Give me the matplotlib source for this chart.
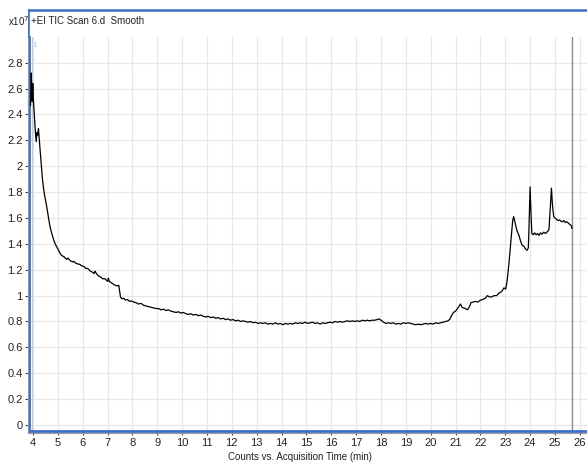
import matplotlib
matplotlib.use("Agg")
import matplotlib.pyplot as plt
from matplotlib.lines import Line2D

# ---- data ----
time_min = [
    3.90, 3.93, 3.95, 3.97, 3.99, 4.02, 4.06, 4.10, 4.13, 4.16, 4.19, 4.22, 4.25, 4.28,
    4.33, 4.38, 4.43, 4.48, 4.55, 4.60, 4.65, 4.70, 4.77, 4.85, 4.92, 5.00, 5.08, 5.15,
    5.25, 5.35, 5.40, 5.50, 5.60, 5.65, 5.72, 5.80, 5.90, 5.95, 6.05, 6.12, 6.20, 6.30,
    6.40, 6.45, 6.50, 6.55, 6.65, 6.75, 6.80, 6.90, 6.95, 7.00, 7.03, 7.07, 7.15, 7.22,
    7.30, 7.38, 7.45, 7.48, 7.52, 7.58, 7.65, 7.72, 7.80, 7.88, 7.95, 8.05, 8.15, 8.25,
    8.35, 8.45, 8.55, 8.65, 8.75, 8.85, 8.95, 9.05, 9.15, 9.25, 9.35, 9.45, 9.55, 9.65,
    9.75, 9.85, 9.95, 10.05, 10.15, 10.25, 10.35, 10.45, 10.55, 10.65, 10.75, 10.85,
    10.95, 11.05, 11.15, 11.25, 11.35, 11.45, 11.55, 11.65, 11.75, 11.85, 11.95, 12.05,
    12.15, 12.25, 12.35, 12.45, 12.55, 12.65, 12.75, 12.85, 12.95, 13.05, 13.15, 13.25,
    13.35, 13.45, 13.55, 13.65, 13.75, 13.85, 13.95, 14.05, 14.15, 14.25, 14.35, 14.45,
    14.55, 14.65, 14.75, 14.85, 14.95, 15.05, 15.15, 15.25, 15.35, 15.45, 15.55, 15.65,
    15.75, 15.85, 15.95, 16.05, 16.15, 16.25, 16.35, 16.45, 16.55, 16.65, 16.75, 16.85,
    16.95, 17.05, 17.15, 17.25, 17.35, 17.45, 17.55, 17.65, 17.75, 17.85, 17.92, 18.00,
    18.10, 18.20, 18.30, 18.40, 18.50, 18.60, 18.70, 18.80, 18.90, 19.00, 19.10, 19.20,
    19.30, 19.40, 19.50, 19.60, 19.70, 19.80, 19.90, 20.00, 20.10, 20.20, 20.30, 20.40,
    20.50, 20.60, 20.70, 20.78, 20.85, 20.92, 21.00, 21.08, 21.15, 21.20, 21.26, 21.32,
    21.40, 21.48, 21.55, 21.62, 21.70, 21.80, 21.90, 22.00, 22.10, 22.20, 22.28, 22.36,
    22.46, 22.55, 22.65, 22.75, 22.85, 22.95, 23.02, 23.08, 23.15, 23.22, 23.30, 23.34,
    23.40, 23.46, 23.50, 23.56, 23.62, 23.68, 23.75, 23.82, 23.88, 23.93, 23.96, 24.00,
    24.04, 24.07, 24.12, 24.18, 24.24, 24.30, 24.36, 24.42, 24.48, 24.55, 24.62, 24.70,
    24.76, 24.82, 24.86, 24.90, 24.95, 25.00, 25.06, 25.12, 25.18, 25.24, 25.30, 25.36,
    25.42, 25.48, 25.54, 25.60, 25.66, 25.68,
]
counts_e7 = [
    2.47, 2.72, 2.55, 2.50, 2.64, 2.50, 2.38, 2.25, 2.19, 2.26, 2.24, 2.29, 2.22, 2.14,
    2.02, 1.90, 1.82, 1.76, 1.69, 1.63, 1.57, 1.52, 1.47, 1.42, 1.39, 1.36, 1.33, 1.31,
    1.30, 1.28, 1.29, 1.27, 1.26, 1.265, 1.25, 1.245, 1.24, 1.23, 1.225, 1.21, 1.21, 1.19,
    1.18, 1.17, 1.19, 1.17, 1.15, 1.14, 1.13, 1.13, 1.12, 1.11, 1.135, 1.11, 1.10, 1.09,
    1.08, 1.075, 1.08, 1.04, 0.99, 0.975, 0.98, 0.965, 0.97, 0.955, 0.96, 0.95, 0.945, 0.935,
    0.94, 0.925, 0.92, 0.915, 0.91, 0.905, 0.90, 0.90, 0.89, 0.895, 0.885, 0.89, 0.88, 0.875,
    0.87, 0.875, 0.865, 0.87, 0.86, 0.855, 0.86, 0.85, 0.855, 0.845, 0.85, 0.84,
    0.835, 0.84, 0.83, 0.835, 0.825, 0.83, 0.82, 0.825, 0.815, 0.82, 0.81, 0.815,
    0.805, 0.81, 0.80, 0.805, 0.80, 0.795, 0.80, 0.79, 0.795, 0.785, 0.79, 0.785,
    0.79, 0.78, 0.785, 0.78, 0.79, 0.78, 0.785, 0.775, 0.785, 0.78, 0.785, 0.78,
    0.79, 0.785, 0.79, 0.785, 0.795, 0.785, 0.79, 0.795, 0.785, 0.79, 0.78, 0.79,
    0.785, 0.79, 0.795, 0.79, 0.80, 0.795, 0.80, 0.795, 0.80, 0.805, 0.80, 0.805,
    0.80, 0.805, 0.80, 0.81, 0.805, 0.81, 0.805, 0.81, 0.81, 0.815, 0.82, 0.81,
    0.795, 0.785, 0.79, 0.785, 0.79, 0.78, 0.785, 0.78, 0.79, 0.785, 0.79, 0.785,
    0.78, 0.775, 0.78, 0.775, 0.78, 0.785, 0.78, 0.785, 0.78, 0.79, 0.785, 0.79,
    0.795, 0.80, 0.805, 0.82, 0.85, 0.87, 0.88, 0.90, 0.92, 0.935, 0.91, 0.905,
    0.90, 0.89, 0.91, 0.945, 0.95, 0.955, 0.95, 0.965, 0.97, 0.98, 1.00, 0.99,
    0.99, 1.00, 1.00, 1.02, 1.03, 1.06, 1.05, 1.12, 1.25, 1.40, 1.58, 1.61,
    1.56, 1.51, 1.49, 1.46, 1.42, 1.39, 1.38, 1.36, 1.35, 1.37, 1.55, 1.84,
    1.62, 1.48, 1.47, 1.485, 1.47, 1.48, 1.465, 1.485, 1.475, 1.49, 1.48, 1.495,
    1.51, 1.70, 1.83, 1.70, 1.61, 1.60, 1.59, 1.58, 1.585, 1.575, 1.57, 1.58,
    1.565, 1.57, 1.56, 1.55, 1.54, 1.52,
]
x_ticks = list(range(4, 27))
y_ticks = [0, 0.2, 0.4, 0.6, 0.8, 1, 1.2, 1.4, 1.6, 1.8, 2, 2.2, 2.4, 2.6, 2.8]
y_tick_labels = ["0", "0.2", "0.4", "0.6", "0.8", "1", "1.2", "1.4", "1.6", "1.8",
                 "2", "2.2", "2.4", "2.6", "2.8"]
marker_start = 3.94
marker_end = 25.67
title_text = "+EI TIC Scan 6.d  Smooth"
x_label = "Counts vs. Acquisition Time (min)"

FONT = ["Liberation Sans Narrow", "Liberation Sans", "DejaVu Sans"]
BLUE = "#3d6fc6"

W, H = 587, 463
fig = plt.figure(figsize=(W / 100, H / 100), dpi=100)
fig.patch.set_facecolor("white")

ax = fig.add_axes([29 / W, 1 - 431 / H, (W - 29) / W, (431 - 37) / H])
ax.set_xlim(3.839, 26.29)
ax.set_ylim(-0.046, 2.998)

ax.plot(time_min, counts_e7, color="black", lw=0.9, zorder=3)

ax.axvline(marker_start, color="#b8cfe6", lw=1.0, zorder=2)
ax.axvline(marker_end, color="#8c8c8c", lw=1.0, zorder=2)

ax.set_xticks(x_ticks)
ax.set_xticklabels([str(v) for v in x_ticks], fontfamily=FONT, fontsize=8, color="#222222")
ax.set_yticks(y_ticks)
ax.set_yticklabels(y_tick_labels, fontfamily=FONT, fontsize=8, color="#222222")
ax.tick_params(axis="both", direction="out", length=3, width=0.8, color="#444444", pad=1.5)
ax.tick_params(axis="x", pad=2)

ax.grid(True, color="#e8e8e8", lw=0.9, zorder=0)
ax.set_axisbelow(True)

for s in ["top", "right"]:
    ax.spines[s].set_visible(False)
ax.spines["left"].set_color(BLUE)
ax.spines["left"].set_linewidth(2.0)
ax.spines["bottom"].set_color(BLUE)
ax.spines["bottom"].set_linewidth(2.0)

# shadow lines beside the frame
fig.add_artist(Line2D([27.8 / W, 27.8 / W], [1 - 433 / H, 1 - 10 / H],
                      color="#9a9a9a", lw=0.8))
fig.add_artist(Line2D([29 / W, 1], [1 - 432.6 / H, 1 - 432.6 / H],
                      color="#9a9a9a", lw=0.8))
# title band borders
fig.add_artist(Line2D([28.5 / W, 1], [1 - 10 / H, 1 - 10 / H], color=BLUE, lw=1.8))
fig.add_artist(Line2D([29 / W, 29 / W], [1 - 37 / H, 1 - 10 / H], color=BLUE, lw=1.2))

fig.text(31 / W, 1 - 21 / H, title_text, fontfamily=FONT, fontsize=7,
         va="center", ha="left", color="#222222")
fig.text(8 / W, 1 - 21 / H, r"x10$^{7}$", fontfamily=FONT, fontsize=7,
         va="center", ha="left", color="#222222")
ax.text(marker_start + 0.05, 2.93, "1", fontfamily=FONT, fontsize=6,
        color="#a9c4e0", va="center", ha="left")

fig.text(300 / W, 1 - 457 / H, x_label, fontfamily=FONT, fontsize=7,
         va="center", ha="center", color="#222222")

fig.savefig("out.png", dpi=100, facecolor="white")
